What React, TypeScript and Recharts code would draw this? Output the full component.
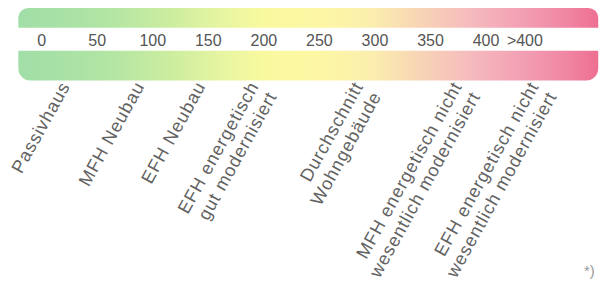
import { ComposedChart, XAxis, YAxis, ReferenceArea } from 'recharts'

// Energy scale (kWh/m²a) tick positions and labels
const TICKS = [0, 50, 100, 150, 200, 250, 300, 350, 400, 435]
const TICK_LABELS = ['0', '50', '100', '150', '200', '250', '300', '350', '400', '>400']

// Building types, placed along the same scale
const CATEGORY_POS = [26, 93, 148, 196, 290, 379, 448]
const CATEGORY_LINES = [
  ['Passivhaus'],
  ['MFH Neubau'],
  ['EFH Neubau'],
  ['EFH energetisch', 'gut modernisiert'],
  ['Durchschnitt', 'Wohngebäude'],
  ['MFH energetisch nicht', 'wesentlich modernisiert'],
  ['EFH energetisch nicht', 'wesentlich modernisiert'],
]

const SCALE_START = -21
const SCALE_END = 501

const FONT = '"Liberation Sans", Arial, sans-serif'

const rows = TICKS.map((v) => ({ x: v, y: 0 }))

const renderScaleTick = (props: any) => {
  const { x, payload } = props
  const label = TICK_LABELS[TICKS.indexOf(payload.value)]
  return (
    <text x={x} y={46} textAnchor="middle" fontSize={16} fill="#555" fontFamily={FONT}>
      {label}
    </text>
  )
}

const renderCategoryTick = (props: any) => {
  const { x, payload } = props
  const lines = CATEGORY_LINES[CATEGORY_POS.indexOf(payload.value)] || []
  const y = 86
  return (
    <text
      x={x}
      y={y}
      transform={`rotate(-61 ${x} ${y})`}
      textAnchor="end"
      fontSize={18}
      letterSpacing={0.9}
      fill="#626262"
      fontFamily={FONT}
    >
      {lines.map((l, k) => (
        <tspan key={k} x={x} dy={k === 0 ? 0 : '1.15em'}>
          {l}
        </tspan>
      ))}
    </text>
  )
}

export default function App() {
  return (
    <div style={{ position: 'absolute', left: 0, top: 0, width: 607, height: 282, background: '#fff' }}>
      <ComposedChart width={607} height={282} margin={{ top: 0, right: 0, bottom: 0, left: 0 }} data={rows}>
        <defs>
          <linearGradient id="energyGrad" x1="0" y1="0" x2="1" y2="0">
            <stop offset="0%" stopColor="#a2dea8" />
            <stop offset="14%" stopColor="#afe4a4" />
            <stop offset="26%" stopColor="#cbed9f" />
            <stop offset="35%" stopColor="#e6f5a1" />
            <stop offset="42%" stopColor="#f9f99f" />
            <stop offset="52%" stopColor="#fdf7a4" />
            <stop offset="61%" stopColor="#fbeeae" />
            <stop offset="69%" stopColor="#f8d5b5" />
            <stop offset="78%" stopColor="#f5bbbe" />
            <stop offset="86%" stopColor="#f3a2b5" />
            <stop offset="95%" stopColor="#f084a1" />
            <stop offset="100%" stopColor="#ee6f92" />
          </linearGradient>
        </defs>
        <XAxis
          type="number"
          dataKey="x"
          domain={[-37.5, 508.9]}
          allowDataOverflow
          ticks={TICKS}
          interval={0}
          height={1}
          axisLine={false}
          tickLine={false}
          tick={renderScaleTick}
        />
        <XAxis
          xAxisId="cat"
          type="number"
          dataKey="x"
          domain={[-37.5, 508.9]}
          allowDataOverflow
          ticks={CATEGORY_POS}
          interval={0}
          height={1}
          axisLine={false}
          tickLine={false}
          tick={renderCategoryTick}
        />
        <YAxis type="number" dataKey="y" domain={[0, 282]} reversed hide width={0} allowDataOverflow />
        <ReferenceArea
          x1={SCALE_START}
          x2={SCALE_END}
          y1={8}
          y2={28}
          fill="url(#energyGrad)"
          fillOpacity={1}
          stroke="none"
          radius={[12, 12, 0, 0]}
          ifOverflow="visible"
        />
        <ReferenceArea
          x1={SCALE_START}
          x2={SCALE_END}
          y1={51}
          y2={81}
          fill="url(#energyGrad)"
          fillOpacity={1}
          stroke="none"
          radius={[0, 0, 12, 12]}
          ifOverflow="visible"
        />
      </ComposedChart>
      <div
        style={{
          position: 'absolute',
          left: 584,
          top: 262,
          fontSize: 15,
          color: '#999',
          fontFamily: FONT,
        }}
      >
        *)
      </div>
    </div>
  )
}
